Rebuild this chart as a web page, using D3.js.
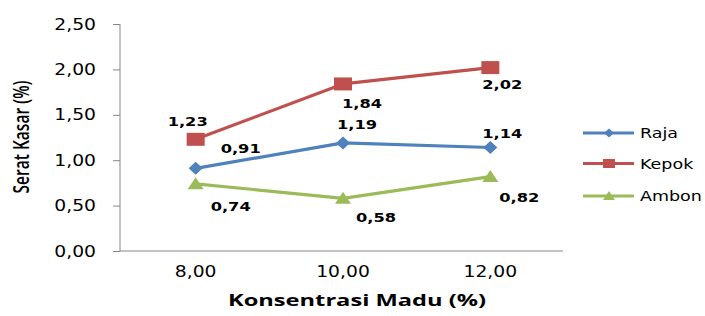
<!DOCTYPE html>
<html><head><meta charset="utf-8">
<script src="https://cdn.jsdelivr.net/npm/d3@7/dist/d3.min.js"></script>
<style>body{margin:0;background:#fff}svg{display:block}</style>
</head><body><svg id="c" width="705" height="316"></svg>
<script>
const categories = ["8,00", "10,00", "12,00"];
const seriesNames = ["Raja", "Kepok", "Ambon"];
const raja = [0.91, 1.19, 1.14];
const kepok = [1.23, 1.84, 2.02];
const ambon = [0.74, 0.58, 0.82];
const yTicks = [0, 0.5, 1.0, 1.5, 2.0, 2.5];
const yTickLabels = ["0,00", "0,50", "1,00", "1,50", "2,00", "2,50"];
const xTitle = "Konsentrasi Madu (%)";
const yTitle = "Serat Kasar (%)";

const colors = ["#4F81BD", "#C0504D", "#9BBB59"];
const SX = 1.25;
// label offsets (layout only)
const labelOffsets = [
  [[45,-20],[14,-19],[12,-14]],
  [[-8,-18],[19,19],[12,16]],
  [[35,22],[33,19],[29,20]]
];
const series = [raja, kepok, ambon];
const fmt = v => v.toFixed(2).replace(".", ",");

const svg = d3.select("#c");
const x = d3.scalePoint().domain(categories).range([122, 564]).padding(0.5);
const y = d3.scaleLinear().domain([0, 2.5]).range([251, 24]);

function stext(g, tx, ty, str, opts) {
  return g.append("text")
    .attr("transform", `translate(${tx},${ty}) scale(${opts.sx||SX},1)`)
    .attr("font-family", opts.family || "DejaVu Sans")
    .attr("font-size", opts.size)
    .attr("font-weight", opts.weight || "normal")
    .attr("text-anchor", opts.anchor || "start")
    .attr("fill", opts.fill || "#000")
    .text(str);
}

// Y axis
const yAxis = d3.axisLeft(y).tickValues(yTicks).tickSize(7).tickFormat("");
const ga = svg.append("g").attr("transform", "translate(120,0)").call(yAxis);
ga.selectAll("path,line").attr("stroke", "#868686");
ga.select(".domain").attr("d", `M0,${y(2.5)}V${y(0)}`);
yTicks.forEach((t, i) => stext(svg, 96, y(t) + 5.5, yTickLabels[i], {size: 15, anchor: "end"}));

// X axis line
svg.append("line").attr("x1", 120).attr("x2", 563).attr("y1", y(0)).attr("y2", y(0))
  .attr("stroke", "#868686");
categories.forEach(c => stext(svg, x(c), 277, c, {size: 15, anchor: "middle"}));

// Titles
svg.append("text").attr("x", 357).attr("y", 306).attr("text-anchor", "middle")
  .attr("font-family", "Open Sans").attr("font-weight", "bold").attr("font-size", 16)
  .attr("textLength", 258).attr("lengthAdjust", "spacingAndGlyphs").text(xTitle);
svg.append("text").attr("transform", "translate(29,137) rotate(-90) scale(1,1.3)").attr("text-anchor", "middle")
  .attr("font-family", "Open Sans").attr("font-size", 16).attr("font-weight", 600)
  .attr("textLength", 113).attr("lengthAdjust", "spacingAndGlyphs").text(yTitle);

// markers
function markerPath(kind, w, h) {
  const p = d3.path();
  if (kind === 0) { p.moveTo(0,-h/2); p.lineTo(w/2,0); p.lineTo(0,h/2); p.lineTo(-w/2,0); p.closePath(); }
  else if (kind === 1) { p.rect(-w/2,-h/2,w,h); }
  else { p.moveTo(0,-h*0.55); p.lineTo(w/2,h*0.45); p.lineTo(-w/2,h*0.45); p.closePath(); }
  return p.toString();
}
const mSize = [[14,13],[18,13],[16,12]];
const line = d3.line().x((d,i) => x(categories[i])).y(d => y(d));

series.forEach((s, si) => {
  svg.append("path").attr("d", line(s)).attr("fill", "none")
    .attr("stroke", colors[si]).attr("stroke-width", 3.2).attr("stroke-linejoin", "round");
});
series.forEach((s, si) => {
  s.forEach((v, i) => {
    svg.append("path").attr("d", markerPath(si, mSize[si][0], mSize[si][1]))
      .attr("transform", `translate(${x(categories[i])},${y(v)})`).attr("fill", colors[si]);
  });
});
series.forEach((s, si) => {
  s.forEach((v, i) => {
    const o = labelOffsets[si][i];
    stext(svg, x(categories[i]) + o[0], y(v) + o[1] + 5, fmt(v), {size: 13, weight: "bold", anchor: "middle"});
  });
});

// legend
const legY = [133, 163.5, 196];
seriesNames.forEach((n, si) => {
  svg.append("line").attr("x1", 583).attr("x2", 634).attr("y1", legY[si]).attr("y2", legY[si])
    .attr("stroke", colors[si]).attr("stroke-width", 3.2);
  svg.append("path").attr("d", markerPath(si, si === 0 ? 10 : 12, si === 0 ? 9 : 9))
    .attr("transform", `translate(609,${legY[si]})`).attr("fill", colors[si]);
  stext(svg, 640, legY[si] + 5, n, {size: 14});
});
</script></body></html>
